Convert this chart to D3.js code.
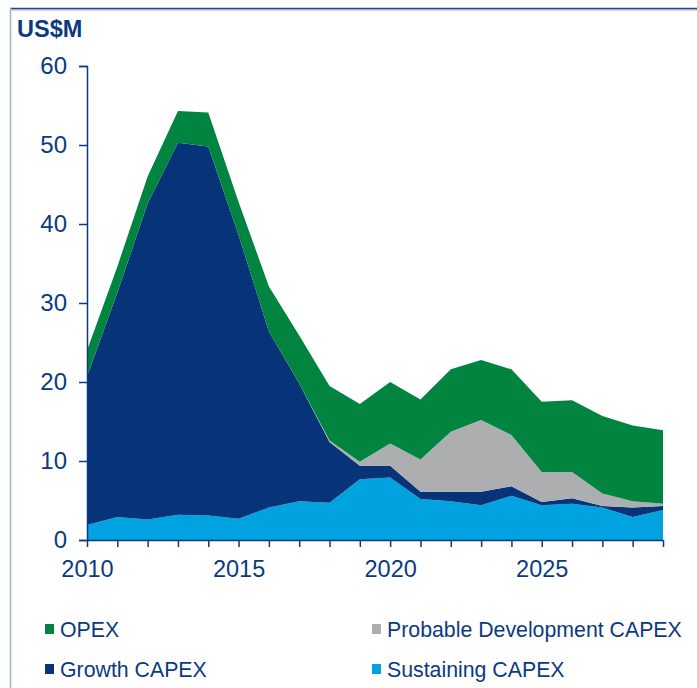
<!DOCTYPE html>
<html>
<head>
<meta charset="utf-8">
<script src="https://cdn.jsdelivr.net/npm/d3@7"></script>
<style>
  body { margin: 0; background: #fff; }
  text { font-family: "Liberation Sans", Arial, sans-serif; }
</style>
</head>
<body>
<div id="chart"></div>
<script>
// years on the x axis
const years = d3.range(2010, 2030);

// values, US$M per year
const sustaining = [1.9, 2.9, 2.6, 3.2, 3.1, 2.7, 4.1, 4.9, 4.7, 7.7, 7.9, 5.2, 4.9, 4.4, 5.6, 4.4, 4.6, 4.1, 2.9, 3.8];
const growth     = [18.8, 28.4, 40.0, 47.1, 46.7, 35.9, 22.3, 14.9, 7.7, 1.7, 1.5, 0.9, 1.2, 1.7, 1.2, 0.4, 0.7, 0.2, 1.2, 0.5];
const probable   = [0, 0, 0, 0, 0, 0, 0, 0, 0.2, 0.5, 2.8, 4.1, 7.6, 9.1, 6.5, 3.8, 3.3, 1.6, 0.8, 0.3];
const opex       = [3.3, 3.3, 3.4, 4.0, 4.3, 4.2, 5.7, 6.1, 6.9, 7.3, 7.8, 7.6, 7.9, 7.6, 8.3, 8.9, 9.1, 9.8, 9.6, 9.3];

const yTicks = [0, 10, 20, 30, 40, 50, 60];
const xLabels = [2010, 2015, 2020, 2025];

const keys = ["sustaining", "growth", "probable", "opex"];
const labels = {
  opex: "OPEX",
  probable: "Probable Development CAPEX",
  growth: "Growth CAPEX",
  sustaining: "Sustaining CAPEX"
};
const colors = {
  opex: "#00843f",
  probable: "#adaeb0",
  growth: "#073478",
  sustaining: "#00a3df"
};
const navy = "#0c3a80";

const W = 697, H = 688;
const margin = { top: 66, left: 87 };
const width = 663 - margin.left,
      height = 540 - margin.top;

const svg = d3.select("#chart").append("svg")
  .attr("width", W)
  .attr("height", H);

// frame lines (top and left)
svg.append("line").attr("x1", 10).attr("x2", W).attr("y1", 10).attr("y2", 10)
  .attr("stroke", "#d3d5d9").attr("stroke-width", 2);
svg.append("line").attr("x1", 10).attr("x2", W).attr("y1", 8.5).attr("y2", 8.5)
  .attr("stroke", "#1b4a8c").attr("stroke-width", 1.5);
svg.append("line").attr("x1", 10.5).attr("x2", 10.5).attr("y1", 8).attr("y2", H)
  .attr("stroke", "#9fb0c8").attr("stroke-width", 1.5);

svg.append("text")
  .attr("x", 17).attr("y", 37)
  .attr("font-size", 23.5).attr("font-weight", "bold")
  .attr("fill", navy)
  .text("US$M");

const g = svg.append("g")
  .attr("transform", "translate(" + margin.left + "," + margin.top + ")");

const x = d3.scaleLinear().domain([2010, 2029]).range([0, width]);
const y = d3.scaleLinear().domain([0, 60]).range([height, 0]);

const data = years.map((yr, i) => ({
  year: yr,
  sustaining: sustaining[i],
  growth: growth[i],
  probable: probable[i],
  opex: opex[i]
}));

const stack = d3.stack().keys(keys);
const series = stack(data);

const area = d3.area()
  .x(d => x(d.data.year))
  .y0(d => y(d[0]))
  .y1(d => y(d[1]));

g.selectAll(".layer")
  .data(series)
  .enter().append("path")
  .attr("class", "layer")
  .attr("d", area)
  .attr("fill", d => colors[d.key]);

// y axis
const yAxis = g.append("g")
  .call(d3.axisLeft(y).tickValues(yTicks).tickSize(8).tickPadding(12));
yAxis.select(".domain").attr("stroke", navy).attr("stroke-width", 1.5);
yAxis.selectAll(".tick line").attr("stroke", navy).attr("stroke-width", 1.5);
yAxis.selectAll(".tick text")
  .attr("fill", navy).attr("font-size", 24)
  .attr("font-family", "Liberation Sans, Arial, sans-serif");

// x axis
const xAxis = g.append("g")
  .attr("transform", "translate(0," + height + ")")
  .call(d3.axisBottom(x).tickValues(years).tickSize(7).tickSizeOuter(0)
    .tickPadding(13)
    .tickFormat(d => xLabels.includes(d) ? d : ""));
xAxis.select(".domain").attr("stroke", navy).attr("stroke-width", 1.5);
xAxis.selectAll(".tick line").attr("stroke", navy).attr("stroke-width", 1.5);
xAxis.selectAll(".tick text")
  .attr("fill", navy).attr("font-size", 23.5)
  .attr("font-family", "Liberation Sans, Arial, sans-serif");

// legend
const legendItems = [
  { key: "opex", x: 45, y: 637 },
  { key: "probable", x: 372, y: 637 },
  { key: "growth", x: 45, y: 677 },
  { key: "sustaining", x: 372, y: 677 }
];
const leg = svg.selectAll(".leg")
  .data(legendItems)
  .enter().append("g")
  .attr("class", "leg")
  .attr("transform", d => "translate(" + d.x + "," + d.y + ")");
leg.append("rect")
  .attr("x", 0).attr("y", -13)
  .attr("width", 9).attr("height", 10)
  .attr("fill", d => colors[d.key]);
leg.append("text")
  .attr("x", 15).attr("y", 0)
  .attr("font-size", 21.3)
  .attr("fill", navy)
  .text(d => labels[d.key]);
</script>
</body>
</html>
